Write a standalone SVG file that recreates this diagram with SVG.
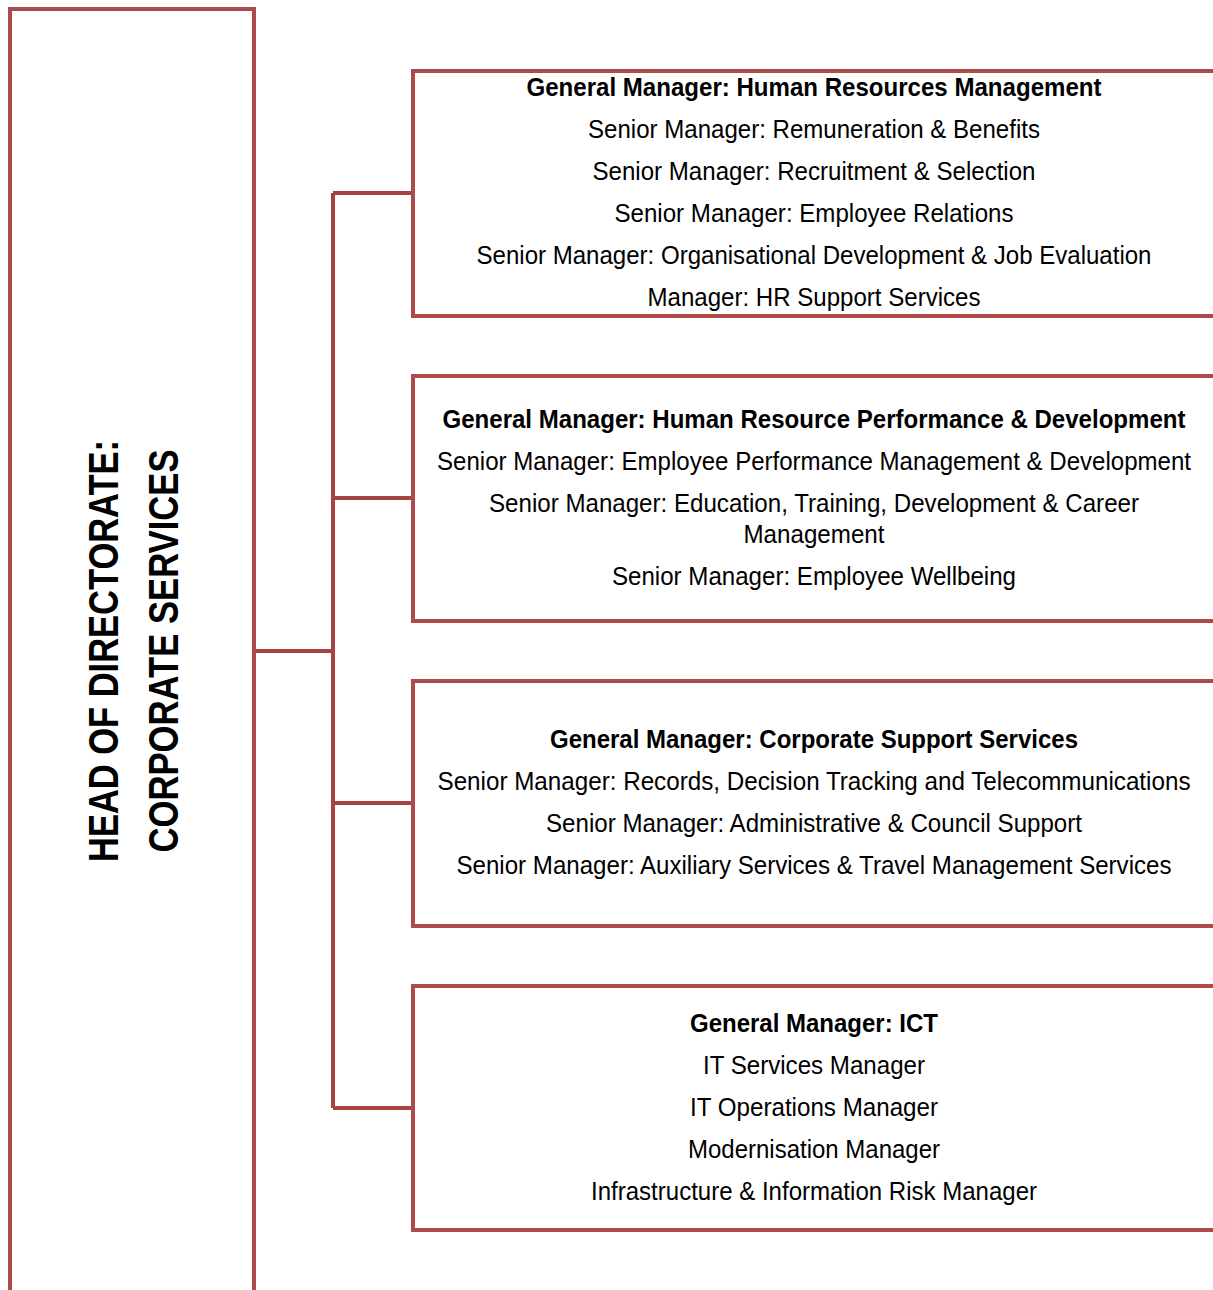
<svg xmlns="http://www.w3.org/2000/svg" width="1213" height="1290" viewBox="0 0 1213 1290">
<style>
.box{fill:#fff;stroke:#B04A4A;stroke-width:4}
.con{fill:none;stroke:#A84343;stroke-width:4}
text{font-family:"Liberation Sans",Arial,sans-serif;font-size:26px;fill:#000;text-anchor:middle}
.b{font-weight:bold}
.h{font-size:42px;font-weight:bold}
</style>
<g id="connectors">
<path class="con" d="M254 651H333M333 193V1108M333 193H413M333 498H413M333 803H413M333 1108H413"/>
</g>
<g id="head">
<rect class="box" x="10" y="9" width="244" height="1290"/>
<text class="h" transform="translate(100 651) rotate(-90)" y="18" textLength="422" lengthAdjust="spacingAndGlyphs">HEAD OF DIRECTORATE:</text>
<text class="h" transform="translate(161 651) rotate(-90)" y="17" textLength="403" lengthAdjust="spacingAndGlyphs">CORPORATE SERVICES</text>
</g>
<g id="hrm">
<rect class="box" x="413" y="71" width="802" height="245"/>
<text class="b" x="814" y="96" textLength="575" lengthAdjust="spacingAndGlyphs">General Manager: Human Resources Management</text>
<text x="814" y="138" textLength="452" lengthAdjust="spacingAndGlyphs">Senior Manager: Remuneration &amp; Benefits</text>
<text x="814" y="180" textLength="443" lengthAdjust="spacingAndGlyphs">Senior Manager: Recruitment &amp; Selection</text>
<text x="814" y="222" textLength="399" lengthAdjust="spacingAndGlyphs">Senior Manager: Employee Relations</text>
<text x="814" y="264" textLength="675" lengthAdjust="spacingAndGlyphs">Senior Manager: Organisational Development &amp; Job Evaluation</text>
<text x="814" y="306" textLength="333" lengthAdjust="spacingAndGlyphs">Manager: HR Support Services</text>
</g>
<g id="hrpd">
<rect class="box" x="413" y="376" width="802" height="245"/>
<text class="b" x="814" y="428" textLength="743" lengthAdjust="spacingAndGlyphs">General Manager: Human Resource Performance &amp; Development</text>
<text x="814" y="470" textLength="754" lengthAdjust="spacingAndGlyphs">Senior Manager: Employee Performance Management &amp; Development</text>
<text x="814" y="512" textLength="650" lengthAdjust="spacingAndGlyphs">Senior Manager: Education, Training, Development &amp; Career</text>
<text x="814" y="543" textLength="141" lengthAdjust="spacingAndGlyphs">Management</text>
<text x="814" y="585" textLength="404" lengthAdjust="spacingAndGlyphs">Senior Manager: Employee Wellbeing</text>
</g>
<g id="css">
<rect class="box" x="413" y="681" width="802" height="245"/>
<text class="b" x="814" y="748" textLength="528" lengthAdjust="spacingAndGlyphs">General Manager: Corporate Support Services</text>
<text x="814" y="790" textLength="753" lengthAdjust="spacingAndGlyphs">Senior Manager: Records, Decision Tracking and Telecommunications</text>
<text x="814" y="832" textLength="536" lengthAdjust="spacingAndGlyphs">Senior Manager: Administrative &amp; Council Support</text>
<text x="814" y="874" textLength="715" lengthAdjust="spacingAndGlyphs">Senior Manager: Auxiliary Services &amp; Travel Management Services</text>
</g>
<g id="ict">
<rect class="box" x="413" y="986" width="802" height="244"/>
<text class="b" x="814" y="1032" textLength="248" lengthAdjust="spacingAndGlyphs">General Manager: ICT</text>
<text x="814" y="1074" textLength="222" lengthAdjust="spacingAndGlyphs">IT Services Manager</text>
<text x="814" y="1116" textLength="248" lengthAdjust="spacingAndGlyphs">IT Operations Manager</text>
<text x="814" y="1158" textLength="252" lengthAdjust="spacingAndGlyphs">Modernisation Manager</text>
<text x="814" y="1200" textLength="446" lengthAdjust="spacingAndGlyphs">Infrastructure &amp; Information Risk Manager</text>
</g>
</svg>
